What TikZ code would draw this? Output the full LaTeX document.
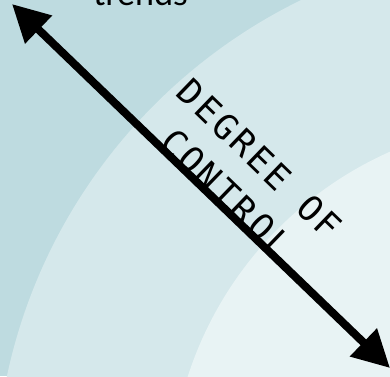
\documentclass[tikz,border=0pt]{standalone}
\usepackage{fontspec}
\usetikzlibrary{arrows.meta}
\newfontfamily\ctrlfont[LetterSpace=9]{DejaVu Sans Mono}
\newfontfamily\trendfont{Lato}
\definecolor{ringouter}{HTML}{BEDBE0}
\definecolor{ringmid}{HTML}{D5E8EB}
\definecolor{ringinner}{HTML}{E8F3F4}
\tikzset{
  ctrlarrow/.style={line width=8pt,
    {Triangle[length=37pt,width=37pt]}-{Triangle[length=37pt,width=37pt]}},
  ctrltext/.style={font=\ctrlfont\fontsize{35}{35}\selectfont,
    rotate=-44, anchor=base, inner sep=0pt},
}
\begin{document}
\begin{tikzpicture}[x=1pt,y=-1pt]
\useasboundingbox (0,0) rectangle (390,376);
\clip (0,0) rectangle (390,376);
% rings
\fill[ringouter] (0,0) rectangle (390,376);
\fill[ringmid] (540,490) circle (545);
\fill[ringinner] (540,490) circle (370);
% cut-off label at the top
\node[font=\trendfont\fontsize{34}{34}\selectfont, anchor=base west, inner sep=0pt] (trends) at (93,5.5) {trends};
% axis
\coordinate (hi) at (12,4);
\coordinate (lo) at (390,368);
\draw[ctrlarrow] (hi) -- (lo);
\node[ctrltext] (degree) at (251,168) {DEGREE OF};
\node[ctrltext] (control) at (218,202) {CONTROL};
\end{tikzpicture}
\end{document}
